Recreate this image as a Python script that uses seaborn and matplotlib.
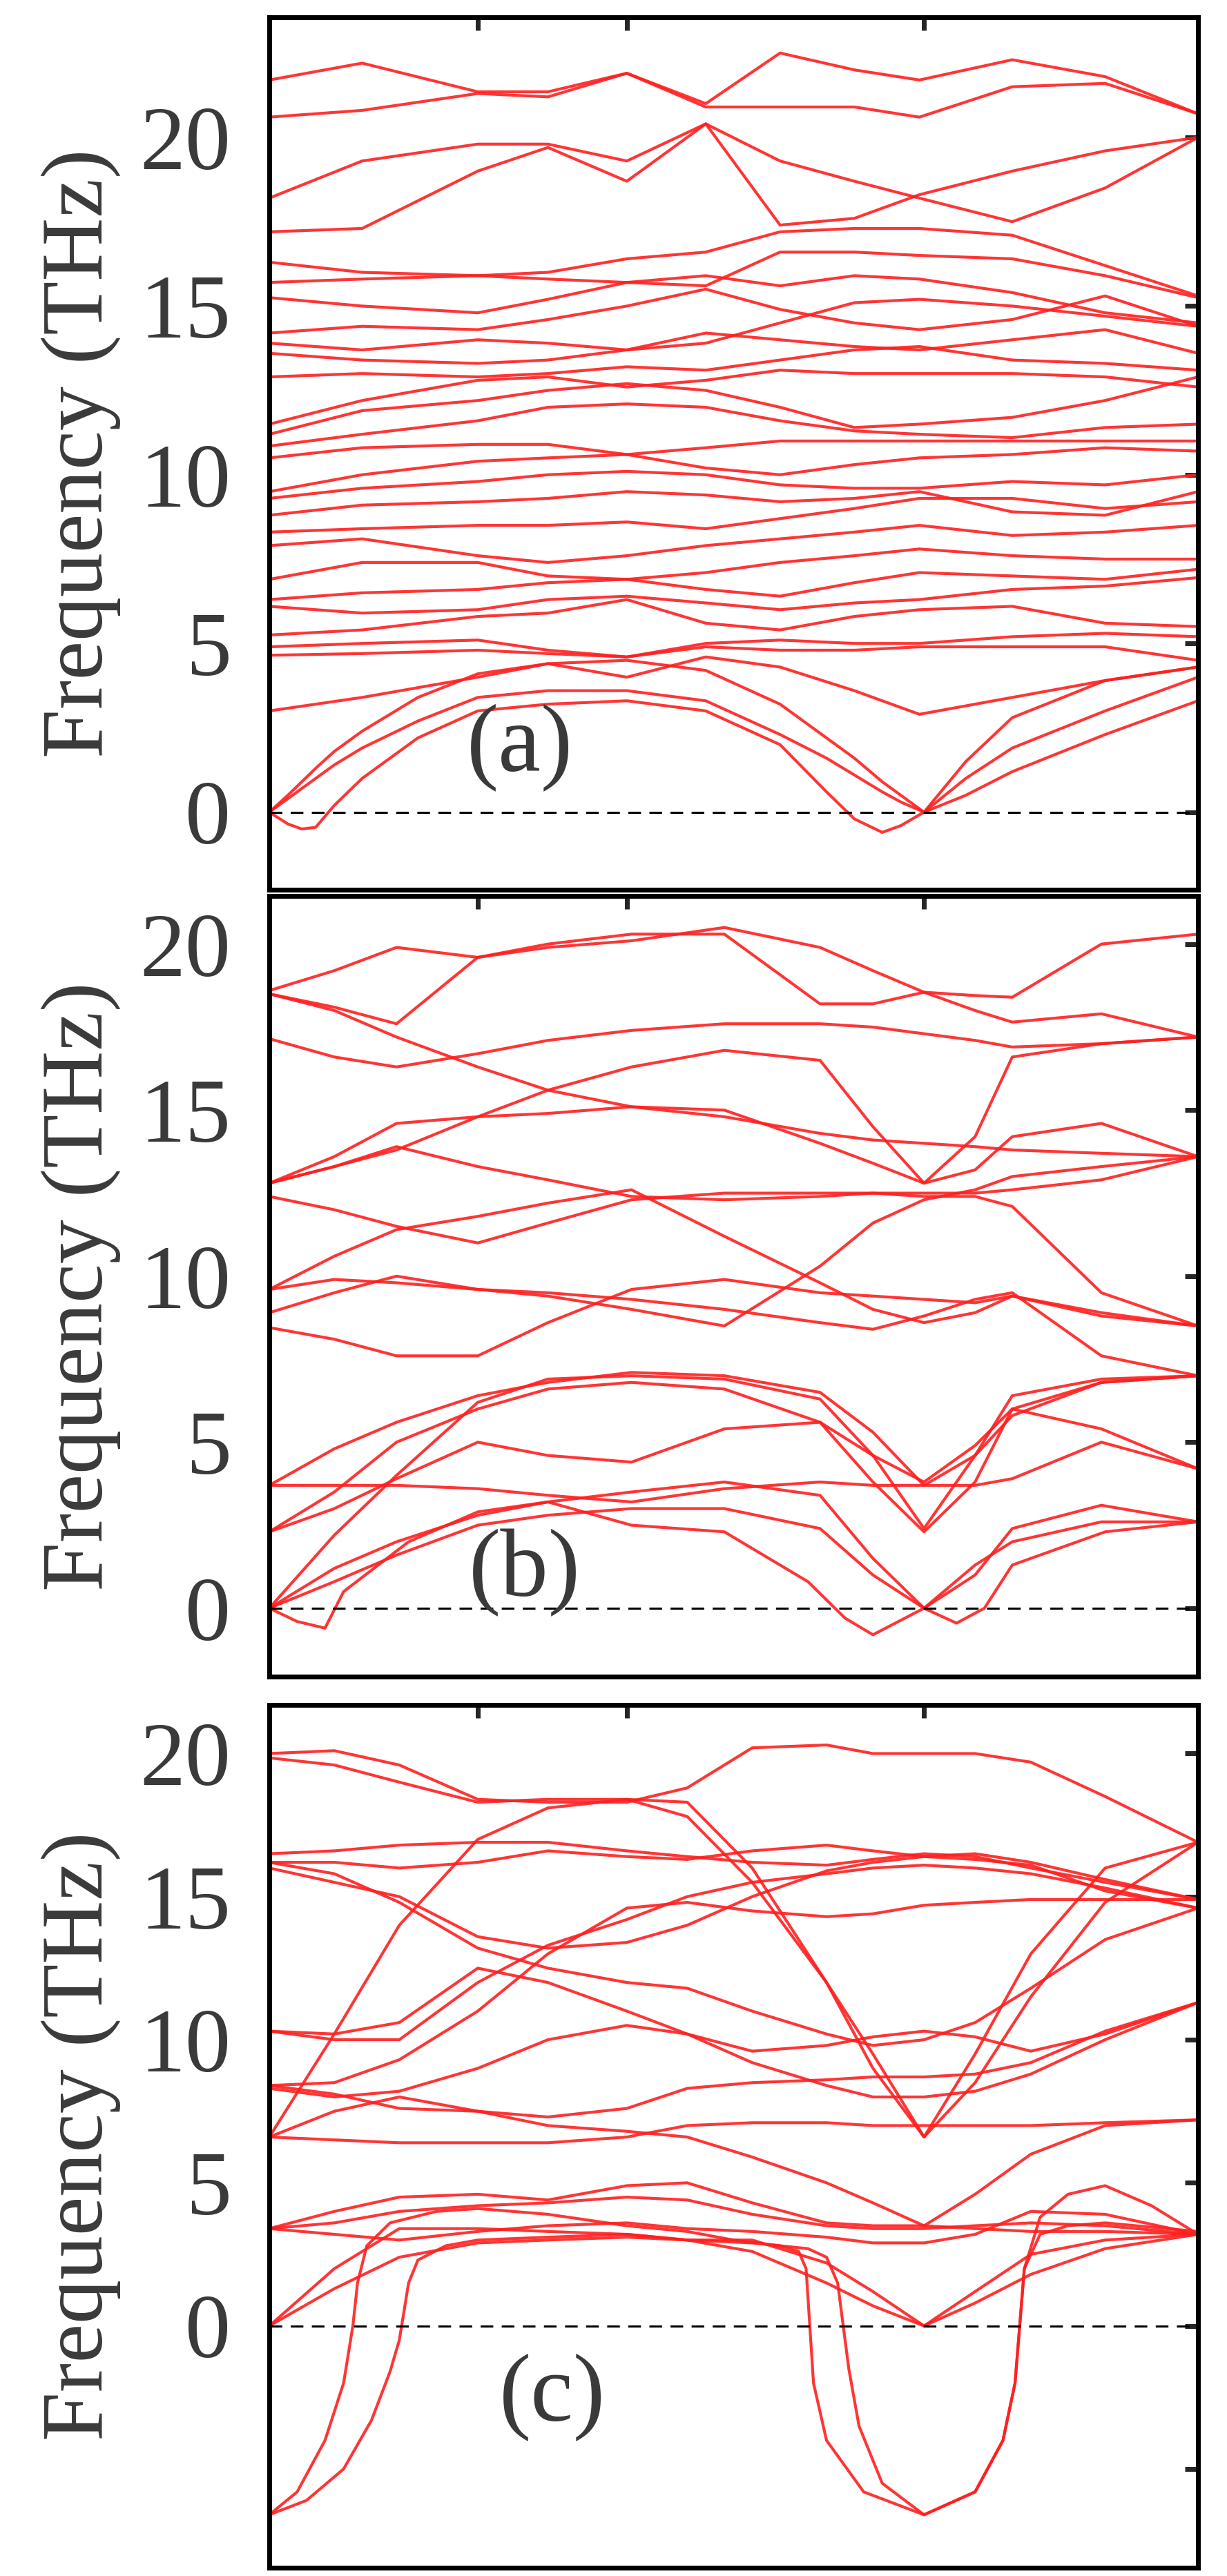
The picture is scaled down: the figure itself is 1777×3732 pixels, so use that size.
import numpy as np
import pandas as pd
import matplotlib
matplotlib.use("Agg")
import matplotlib.pyplot as plt
import seaborn as sns

sns.set_style("white")
plt.rcParams['font.family'] = ['serif']
plt.rcParams['font.serif'] = ['Liberation Serif', 'DejaVu Serif']
FONT = ['Liberation Serif', 'DejaVu Serif']

RED = "#ff1f1f"
TXT = "#3a3a3a"

# ---------------- Panel (a) ----------------
X_A = [0, .1, .2245, .3, .385, .47, .55, .63, .70, .8, .9, 1.0]
BANDS_A = [
    [21.7, 22.2, 21.35, 21.35, 21.9, 21.0, 22.5, 22.0, 21.7, 22.3, 21.8, 20.7],
    [20.6, 20.8, 21.3, 21.2, 21.9, 20.9, 20.9, 20.9, 20.6, 21.5, 21.6, 20.7],
    [18.2, 19.3, 19.8, 19.8, 19.3, 20.4, 19.3, 18.7, 18.2, 17.5, 18.5, 20.0],
    [17.2, 17.3, 19.0, 19.7, 18.7, 20.4, 17.4, 17.6, 18.3, 19.0, 19.6, 20.0],
    [16.3, 16.0, 15.9, 16.0, 16.4, 16.6, 17.2, 17.3, 17.3, 17.1, 16.2, 15.3],
    [15.7, 15.8, 15.9, 15.8, 15.7, 15.6, 16.6, 16.6, 16.5, 16.4, 15.9, 15.25],
    [15.25, 15.0, 14.8, 15.2, 15.7, 15.9, 15.6, 15.9, 15.8, 15.4, 14.8, 14.5],
    [14.2, 14.4, 14.3, 14.6, 15.0, 15.5, 14.9, 14.5, 14.3, 14.6, 15.3, 14.4],
    [13.9, 13.7, 14.0, 13.9, 13.7, 13.9, 14.5, 15.1, 15.2, 15.0, 14.7, 14.4],
    [13.6, 13.4, 13.3, 13.4, 13.7, 14.2, 14.0, 13.8, 13.7, 14.0, 14.3, 13.6],
    [12.9, 13.0, 12.9, 13.0, 13.2, 13.1, 13.4, 13.7, 13.8, 13.4, 13.3, 13.1],
    [11.5, 12.2, 12.8, 12.9, 12.6, 12.8, 13.1, 13.0, 13.0, 13.0, 12.9, 12.6],
    [11.2, 11.9, 12.2, 12.5, 12.7, 12.5, 12.0, 11.4, 11.5, 11.7, 12.2, 12.9],
    [10.85, 11.2, 11.6, 12.0, 12.1, 12.0, 11.6, 11.3, 11.2, 11.1, 11.4, 11.5],
    [10.5, 10.8, 10.9, 10.9, 10.6, 10.8, 11.0, 11.0, 11.0, 11.0, 11.0, 11.0],
    [9.5, 10.0, 10.4, 10.5, 10.6, 10.2, 10.0, 10.3, 10.5, 10.6, 10.8, 10.7],
    [9.3, 9.6, 9.8, 10.0, 10.1, 10.0, 9.7, 9.6, 9.6, 9.8, 9.7, 10.0],
    [8.8, 9.1, 9.2, 9.3, 9.5, 9.4, 9.2, 9.3, 9.5, 8.9, 8.8, 9.5],
    [8.3, 8.4, 8.5, 8.5, 8.6, 8.4, 8.7, 9.0, 9.3, 9.3, 9.0, 9.2],
    [7.9, 8.1, 7.6, 7.4, 7.6, 7.9, 8.1, 8.3, 8.5, 8.2, 8.3, 8.5],
    [6.9, 7.4, 7.4, 7.0, 6.9, 7.1, 7.4, 7.6, 7.8, 7.6, 7.5, 7.5],
    [6.3, 6.5, 6.6, 6.8, 6.9, 6.6, 6.4, 6.8, 7.1, 7.0, 6.9, 7.2],
    [6.1, 5.9, 6.0, 6.3, 6.4, 6.2, 6.0, 6.2, 6.3, 6.6, 6.7, 6.95],
    [5.25, 5.4, 5.8, 5.9, 6.3, 5.6, 5.4, 5.8, 6.0, 6.1, 5.6, 5.5],
    [4.9, 5.0, 5.1, 4.8, 4.6, 5.0, 5.1, 5.0, 5.0, 5.2, 5.3, 5.2],
    [4.65, 4.7, 4.8, 4.7, 4.6, 4.9, 4.8, 4.8, 4.9, 4.9, 4.9, 4.5],
    [3.0, 3.4, 4.0, 4.4, 4.0, 4.6, 4.3, 3.6, 2.9, 3.4, 3.9, 4.3],
]
X_A_AC = [0, .02, .035, .05, .07, .1, .16, .2245, .3, .385, .47, .55, .6, .63, .66, .68, .705, .75, .8, .9, 1.0]
AC_A = [
    [0, 0.5, 0.9, 1.3, 1.8, 2.4, 3.4, 4.1, 4.4, 4.5, 4.2, 3.2, 2.2, 1.6, 0.9, 0.5, 0, 1.5, 2.8, 3.9, 4.3],
    [0, 0.4, 0.7, 1.0, 1.4, 1.9, 2.7, 3.4, 3.6, 3.6, 3.3, 2.3, 1.6, 1.1, 0.6, 0.3, 0, 1.0, 1.9, 3.0, 4.0],
    [0, -0.35, -0.5, -0.45, 0.2, 1.0, 2.2, 3.0, 3.2, 3.3, 3.0, 2.0, 0.6, -0.2, -0.6, -0.4, 0, 0.5, 1.2, 2.3, 3.3],
]

# ---------------- Panel (b) ----------------
X_B = [0, .07, .137, .2245, .3, .39, .49, .593, .65, .705, .76, .8, .896, 1.0]
BANDS_B = [
    [18.6, 19.2, 19.9, 19.6, 19.9, 20.1, 20.5, 19.9, 19.2, 18.55, 18.0, 17.65, 17.9, 17.2],
    [18.5, 18.1, 17.6, 19.6, 20.0, 20.3, 20.3, 18.2, 18.2, 18.55, 18.45, 18.4, 20.0, 20.3],
    [18.5, 18.0, 17.2, 16.3, 15.6, 15.1, 14.8, 14.3, 14.1, 14.0, 13.9, 13.8, 13.7, 13.6],
    [17.15, 16.6, 16.3, 16.7, 17.1, 17.4, 17.6, 17.6, 17.5, 17.3, 17.1, 16.9, 17.0, 17.2],
    [12.8, 13.6, 14.6, 14.8, 15.6, 16.3, 16.8, 16.5, 14.5, 12.8, 14.2, 16.6, 17.0, 17.2],
    [12.8, 13.3, 13.8, 14.8, 14.9, 15.1, 15.0, 14.0, 13.4, 12.8, 13.2, 14.2, 14.6, 13.6],
    [12.8, 13.3, 13.9, 13.3, 12.9, 12.4, 12.3, 12.4, 12.5, 12.5, 12.5, 12.6, 12.9, 13.6],
    [12.4, 12.0, 11.5, 11.0, 11.6, 12.3, 12.5, 12.5, 12.5, 12.4, 12.4, 12.1, 9.5, 8.5],
    [9.6, 10.6, 11.4, 11.8, 12.2, 12.6, 11.2, 9.8, 9.0, 8.6, 8.9, 9.4, 8.8, 8.5],
    [8.9, 9.5, 10.0, 9.6, 9.4, 9.0, 8.5, 10.3, 11.6, 12.3, 12.6, 13.0, 13.3, 13.6],
    [8.45, 8.1, 7.6, 7.6, 8.6, 9.6, 9.9, 9.5, 9.4, 9.3, 9.2, 9.4, 8.9, 8.5],
    [9.6, 9.9, 9.8, 9.6, 9.5, 9.3, 9.0, 8.6, 8.4, 8.8, 9.3, 9.5, 7.6, 7.0],
    [3.7, 4.8, 5.6, 6.4, 6.8, 7.1, 7.0, 6.5, 5.3, 3.7, 4.6, 5.8, 6.8, 7.0],
    [2.3, 3.5, 5.0, 6.0, 6.6, 6.8, 6.6, 5.6, 3.8, 2.3, 3.8, 6.0, 6.8, 7.0],
    [3.7, 3.7, 3.7, 3.6, 3.4, 3.2, 3.6, 3.8, 3.7, 3.7, 3.7, 3.9, 5.0, 4.2],
    [2.3, 3.0, 3.9, 5.0, 4.6, 4.4, 5.4, 5.6, 4.6, 3.8, 4.9, 6.0, 5.4, 4.2],
    [0, 2.2, 4.0, 6.2, 6.9, 7.0, 6.9, 6.3, 4.6, 2.4, 4.6, 6.4, 6.9, 7.0],
    [0, 1.2, 2.0, 2.8, 3.2, 3.5, 3.8, 3.4, 1.5, 0, 1.3, 2.0, 2.6, 2.6],
    [0, 0.8, 1.6, 2.5, 2.8, 3.0, 3.0, 2.4, 1.0, 0, 1.0, 2.4, 3.1, 2.6],
]
X_B_AC = [0, .03, .06, .08, .15, .2245, .3, .39, .49, .58, .62, .65, .705, .74, .77, .8, .9, 1.0]
AC_B = [0, -0.4, -0.6, 0.5, 2.0, 2.9, 3.2, 2.5, 2.3, 0.8, -0.3, -0.8, 0, -0.45, 0.0, 1.3, 2.3, 2.6]

# ---------------- Panel (c) ----------------
X_C = [0, .07, .14, .2245, .3, .385, .45, .52, .6, .65, .705, .76, .82, .9, 1.0]
BANDS_C = [
    [20.0, 20.1, 19.6, 18.4, 18.3, 18.3, 18.8, 20.2, 20.3, 20.0, 20.0, 20.0, 19.7, 18.5, 16.9],
    [19.85, 19.6, 19.0, 18.3, 18.4, 18.4, 17.8, 15.5, 12.0, 9.0, 6.6, 8.5, 11.5, 14.8, 16.9],
    [6.6, 10.2, 14.0, 17.0, 18.1, 18.4, 18.3, 16.0, 12.0, 9.5, 6.6, 9.5, 13.0, 16.0, 16.9],
    [16.5, 16.6, 16.8, 16.9, 16.9, 16.6, 16.4, 16.2, 16.1, 16.3, 16.5, 16.4, 16.0, 15.5, 14.9],
    [16.2, 16.2, 16.0, 16.2, 16.6, 16.4, 16.3, 16.6, 16.8, 16.6, 16.4, 16.3, 16.1, 15.2, 14.6],
    [16.0, 15.5, 15.0, 13.6, 13.2, 13.4, 14.0, 15.0, 15.9, 16.2, 16.4, 16.5, 16.2, 15.6, 14.9],
    [16.2, 15.8, 14.8, 13.2, 12.5, 12.0, 11.8, 11.0, 10.2, 9.8, 10.0, 10.6, 11.8, 13.5, 14.6],
    [10.3, 10.0, 10.0, 12.0, 13.3, 14.2, 15.0, 15.5, 15.8, 16.0, 16.1, 16.0, 15.8, 15.3, 14.6],
    [10.3, 10.2, 10.6, 12.5, 12.0, 11.0, 10.2, 9.6, 9.8, 10.1, 10.3, 10.1, 9.6, 10.2, 11.3],
    [8.4, 8.5, 9.3, 11.0, 13.0, 14.6, 14.8, 14.5, 14.3, 14.4, 14.7, 14.8, 14.9, 14.9, 14.9],
    [8.4, 8.1, 7.6, 7.5, 7.3, 7.6, 8.3, 8.5, 8.6, 8.7, 8.7, 8.8, 9.2, 10.3, 11.3],
    [8.3, 8.0, 8.2, 9.0, 10.0, 10.5, 10.2, 9.2, 8.4, 8.0, 8.0, 8.2, 8.8, 10.0, 11.3],
    [6.6, 6.5, 6.4, 6.4, 6.4, 6.6, 7.0, 7.1, 7.1, 7.0, 7.0, 7.0, 7.0, 7.1, 7.2],
    [6.6, 7.5, 8.0, 7.5, 7.0, 6.8, 6.6, 5.9, 5.0, 4.3, 3.5, 4.6, 6.0, 7.0, 7.2],
    [3.4, 4.0, 4.5, 4.6, 4.4, 4.9, 5.0, 4.3, 3.6, 3.5, 3.5, 3.4, 3.3, 3.3, 3.2],
    [3.4, 3.6, 4.0, 4.2, 4.3, 4.5, 4.4, 3.9, 3.5, 3.4, 3.4, 3.5, 3.6, 3.5, 3.2],
    [3.4, 3.2, 3.0, 3.3, 3.5, 3.6, 3.4, 3.3, 3.1, 2.9, 2.9, 3.2, 4.0, 3.9, 3.2],
    [0, 2.0, 3.4, 3.4, 3.3, 3.2, 3.0, 2.6, 1.5, 0.7, 0, 1.2, 2.5, 3.0, 3.2],
    [0, 1.3, 2.4, 2.9, 3.0, 3.1, 3.0, 3.0, 2.2, 1.2, 0, 0.8, 1.8, 2.7, 3.2],
]
X_C_NEG1 = [0, .03, .06, .08, .09, .095, .105, .13, .18, .2245, .3, .385, .45, .5, .55, .57, .578, .582, .586, .6,
            .64, .705, .76, .79, .803, .808, .813, .83, .86, .9, .95, 1.0]
NEG1_C = [-6.6, -5.8, -4.0, -2.0, 0.0, 1.5, 2.8, 3.6, 4.0, 4.1, 3.9, 3.5, 3.3, 3.0, 2.8, 2.6, 2.0, 0.0, -2.0, -4.0,
          -5.8, -6.6, -5.8, -4.0, -2.0, 0.0, 2.0, 3.8, 4.6, 4.9, 4.2, 3.2]
X_C_NEG2 = [0, .04, .08, .11, .13, .14, .145, .15, .16, .19, .2245, .3, .385, .45, .52, .58, .6, .612, .618, .624,
            .635, .66, .705, .76, .79, .803, .808, .813, .83, .86, .9, 1.0]
NEG2_C = [-6.6, -6.1, -5.0, -3.3, -1.6, -0.5, 0.5, 1.5, 2.3, 2.8, 3.0, 3.1, 3.2, 3.0, 2.9, 2.7, 2.4, 1.5, 0.0, -1.5,
          -3.5, -5.5, -6.6, -5.8, -4.0, -2.0, 0.0, 2.0, 3.2, 3.5, 3.6, 3.3]

XTICKS = [0.2245, 0.385, 0.705]
LABELS = ["(a)", "(b)", "(c)"]

W, H = 1777, 3732
fig = plt.figure(figsize=(W / 100, H / 100), dpi=100)


def make_ax(top_px, bot_px):
    return fig.add_axes([390 / W, 1 - bot_px / H, 1345 / W, (bot_px - top_px) / H])


def draw(ax, xs, ys):
    df = pd.DataFrame({"k": xs, "f": ys})
    sns.lineplot(data=df, x="k", y="f", ax=ax, color=RED, lw=3.0, sort=False,
                 estimator=None, alpha=0.9)


panels = [
    (25, 1289, (-2.3, 23.56), [0, 5, 10, 15, 20], [(X_A, b) for b in BANDS_A] + [(X_A_AC, b) for b in AC_A], 1.9, 0.27),
    (1298, 2429, (-2.06, 21.45), [0, 5, 10, 15, 20], [(X_B, b) for b in BANDS_B] + [(X_B_AC, AC_B)], 1.06, 0.275),
    (2470, 3720, (-8.45, 21.7), [-5, 0, 5, 10, 15, 20], [(X_C, b) for b in BANDS_C] + [(X_C_NEG1, NEG1_C), (X_C_NEG2, NEG2_C)], -2.5, 0.305),
]

for i, (t, b, ylim, yt, bands, ly, lx) in enumerate(panels):
    ax = make_ax(t, b)
    for xs, ys in bands:
        draw(ax, xs, ys)
    ax.axhline(0, color="black", lw=2.2, ls=(0, (6, 4)))
    ax.set_xlim(0, 1)
    ax.set_ylim(*ylim)
    ax.set_xticks(XTICKS)
    ax.set_xticklabels([])
    ax.set_yticks(yt)
    ax.set_yticklabels(["" if v < 0 else str(v) for v in yt], fontfamily=FONT)
    ax.tick_params(axis="both", direction="in", length=14, width=5, top=True, right=True,
                   labelsize=95, labelcolor=TXT, pad=40)
    for s in ax.spines.values():
        s.set_linewidth(5)
        s.set_color("black")
    ax.set_xlabel("")
    ax.set_ylabel("Frequency (THz)", fontsize=92, color=TXT, labelpad=20, fontfamily=FONT)
    ax.text(lx, ly, LABELS[i], fontsize=100, color=TXT, ha="center", va="center", fontfamily=FONT)

fig.savefig("out.png", dpi=100, facecolor="white")
